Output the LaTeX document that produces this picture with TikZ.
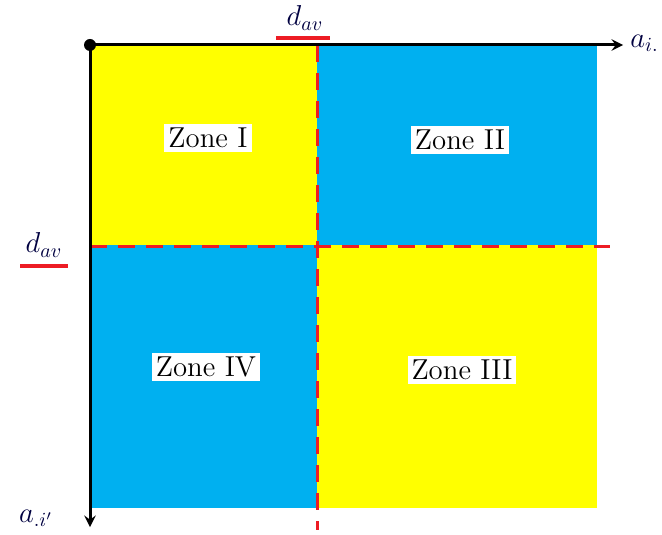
\documentclass[tikz,border=0pt]{standalone}
\usepackage{amsmath}
\usetikzlibrary{positioning,arrows}

\definecolor{zoneyellow}{RGB}{255,255,0}
\definecolor{zoneblue}{RGB}{0,176,240}
\definecolor{divred}{RGB}{237,28,36}

\tikzset{
    axis/.style={line width=1.5pt,->},
    divider/.style={divred,line width=1.5pt,dash pattern=on 8.5pt off 5.5pt},
    zonelabel/.style={fill=white,inner sep=2pt,font=\Large},
    marklabel/.style={font=\Large,text=black!75!blue},
    markbar/.style={divred,line width=2pt}
}

\begin{document}
\begin{tikzpicture}[x=0.5pt,y=-0.5pt,>=stealth]
            \useasboundingbox (0,0) rectangle (662,534);
            % quadrants
            \fill[zoneyellow] (90,45) rectangle (317,245);
            \fill[zoneblue] (317,45) rectangle (597,245);
            \fill[zoneblue] (90,245) rectangle (317,508);
            \fill[zoneyellow] (317,245) rectangle (597,508);
            % dashed dividers
            \coordinate (vtop) at (317,45);
            \coordinate (vbot) at (317,530);
            \coordinate (hleft) at (90,246);
            \coordinate (hright) at (610,246);
            \draw[divider] (vtop) -- (vbot);
            \draw[divider] (hleft) -- (hright);
            % axes
            \coordinate (origin) at (90,45);
            \coordinate (xend) at (623,45);
            \coordinate (yend) at (90,527);
            \draw[axis] (origin) -- (xend);
            \draw[axis] (origin) -- (yend);
            \fill (origin) circle (6);
            \node[marklabel,anchor=east,inner xsep=1pt] (ai) at (661,43) {$a_{i.}$};
            \node[marklabel] (ai2) at (36,518) {$a_{.i'}$};
            % d_av marks
            \node[marklabel] (davtop) at (305,18) {$d_{av}$};
            \coordinate (bartopl) at (276,38);
            \coordinate (bartopr) at (330,38);
            \draw[markbar] (bartopl) -- (bartopr);
            \node[marklabel] (davleft) at (44,245) {$d_{av}$};
            \coordinate (barleftl) at (20,266);
            \coordinate (barleftr) at (68,266);
            \draw[markbar] (barleftl) -- (barleftr);
            % zones
            \node[zonelabel] (zoneI) at (208,138) {Zone I};
            \node[zonelabel] (zoneII) at (460,140) {Zone II};
            \node[zonelabel] (zoneIV) at (206,367) {Zone IV};
            \node[zonelabel] (zoneIII) at (462,370) {Zone III};
        \end{tikzpicture}
\end{document}
